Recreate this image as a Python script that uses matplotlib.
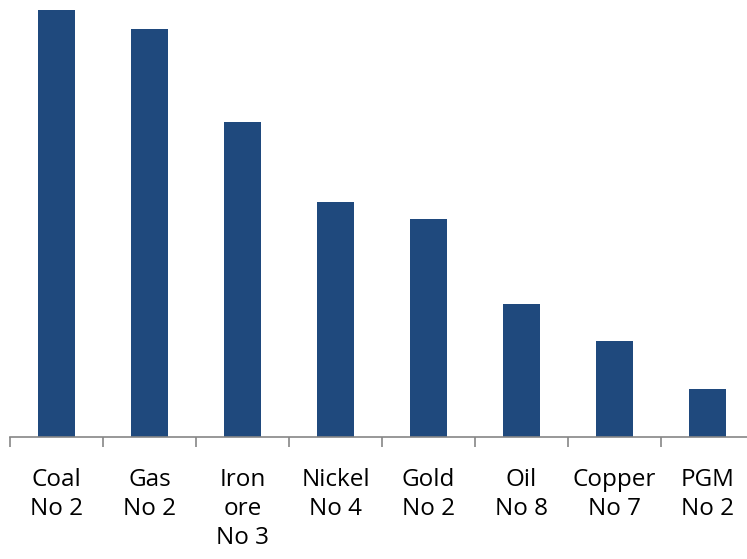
import matplotlib
matplotlib.use("Agg")
import matplotlib.pyplot as plt
import numpy as np

categories = ["Coal\nNo 2", "Gas\nNo 2", "Iron\nore\nNo 3", "Nickel\nNo 4", "Gold\nNo 2", "Oil\nNo 8", "Copper\nNo 7", "PGM\nNo 2"]
values = [427, 408, 315, 235, 218, 133, 96, 48]

W, H = 747, 559
fig = plt.figure(figsize=(W/100, H/100), dpi=100)
ax = fig.add_axes([10/W, (H-437)/H, 744/W, 437/H])

x = np.arange(len(categories))
ax.bar(x, values, width=0.4, color="#1F497D", zorder=2)
ax.set_xlim(-0.5, len(categories)-0.5)
ax.set_ylim(0, 437)

for s in ["top", "right", "left"]:
    ax.spines[s].set_visible(False)
ax.spines["bottom"].set_color("#868686")
ax.spines["bottom"].set_linewidth(1.2)
ax.set_yticks([])

ax.set_xticks(x)
ax.set_xticklabels(categories, fontfamily="Open Sans", fontsize=17.5, linespacing=1.3, va="top")
ax.tick_params(axis="x", which="major", length=0, pad=22)
ax.set_xticks(np.arange(-0.5, len(categories)+0.5, 1), minor=True)
ax.tick_params(axis="x", which="minor", length=7, width=1.2, color="#868686", direction="out")

fig.savefig("out.png", dpi=100)
